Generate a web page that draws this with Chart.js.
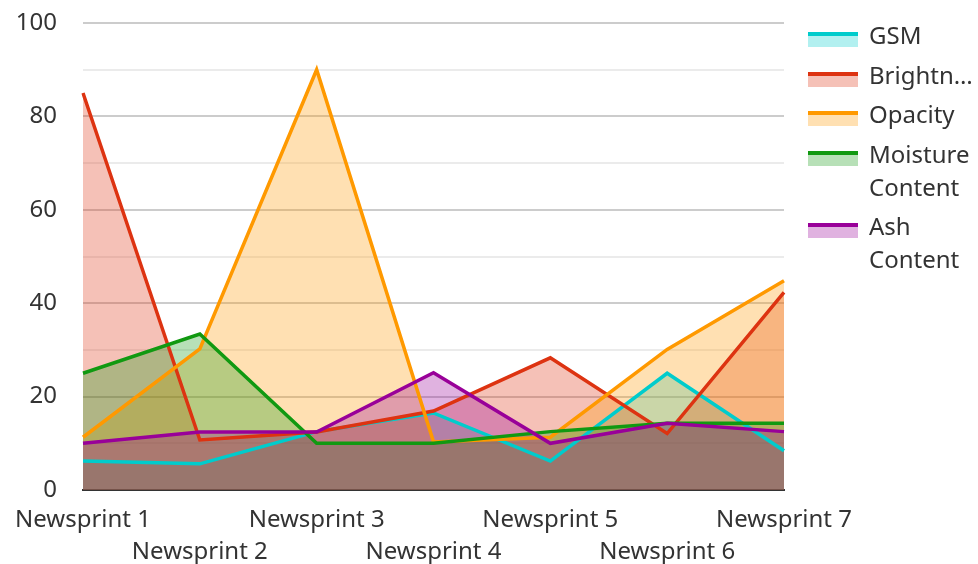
<!DOCTYPE html>
<html>
<head>
<meta charset="utf-8">
<script src="https://cdn.jsdelivr.net/npm/chart.js@4"></script>
<style>
  html, body { margin: 0; padding: 0; background: #fff; }
  #wrap { position: relative; width: 978px; height: 564px; }
  #chart { position: absolute; left: 0; top: 0; }
  #legend { position: absolute; left: 808px; top: 18px; font-family: "Noto Sans", sans-serif; font-size: 24px; color: #333; }
  .item { display: flex; align-items: flex-start; margin-bottom: 6.5px; }
  .sw { width: 50px; height: 15px; margin-top: 14px; margin-right: 11px; position: relative; flex: none; }
  .sw .line { position: absolute; left: 0; top: 0; width: 100%; height: 4px; }
  .lbl { line-height: 33px; width: 110px; white-space: normal; }
</style>
</head>
<body>
<div id="wrap">
  <canvas id="chart" width="978" height="564"></canvas>
  <div id="legend"></div>
</div>
<script>
/* ── Data ── */
const categories = ['Newsprint 1', 'Newsprint 2', 'Newsprint 3', 'Newsprint 4', 'Newsprint 5', 'Newsprint 6', 'Newsprint 7'];
const gsm        = [6.2, 5.6, 12.5, 16.5, 6.2, 25, 8.4];
const brightness = [85, 10.7, 12.4, 16.9, 28.3, 12.1, 42.3];
const opacity    = [11.3, 30.2, 90, 10.3, 11.3, 30.1, 44.8];
const moisture   = [25, 33.4, 10, 10, 12.5, 14.3, 14.3];
const ash        = [10, 12.4, 12.4, 25.1, 10, 14.3, 12.5];

const seriesNames  = ['GSM', 'Brightness', 'Opacity', 'Moisture Content', 'Ash Content'];
const legendLabels = ['GSM', 'Brightn…', 'Opacity', 'Moisture Content', 'Ash Content'];
const seriesData   = [gsm, brightness, opacity, moisture, ash];
const lineColors   = ['#00cccc', '#dd3311', '#ff9900', '#119911', '#990099'];
const fillColors   = ['rgba(0,204,204,0.3)', 'rgba(221,51,17,0.3)', 'rgba(255,153,0,0.3)', 'rgba(17,153,17,0.3)', 'rgba(153,0,153,0.3)'];

const FONT = { family: '"Noto Sans", sans-serif', size: 24 };

new Chart(document.getElementById('chart'), {
  type: 'line',
  data: {
    labels: categories,
    datasets: seriesNames.map((name, i) => ({
      label: name,
      data: seriesData[i],
      borderColor: lineColors[i],
      backgroundColor: fillColors[i],
      borderWidth: 3.5,
      fill: 'origin',
      pointRadius: 0,
      tension: 0,
      order: seriesNames.length - i,   // later series drawn on top
    })),
  },
  options: {
    responsive: false,
    animation: false,
    layout: { padding: { top: 0, right: 194, left: 0, bottom: 0 } },
    plugins: {
      legend: { display: false },
      tooltip: { enabled: false },
      filler: { drawTime: 'beforeDatasetsDraw' },   // all areas under all lines
    },
    scales: {
      x: {
        offset: false,
        grid: { display: false, drawTicks: false },
        border: { display: true, color: '#333', width: 2 },
        ticks: {
          color: '#333', font: { ...FONT, lineHeight: 1.35 }, autoSkip: false, maxRotation: 0, padding: 14,
          callback: (v, i) => (i % 2 ? ['', categories[i]] : categories[i]),
        },
        afterFit: s => { s.height = 74; },
      },
      y: {
        min: 0, max: 100,
        border: { display: false },
        grid: {
          drawTicks: false,
          color: ctx => (ctx.tick.value % 20 === 0 ? 'rgba(0,0,0,0.2)' : 'rgba(0,0,0,0.08)'),
          lineWidth: 2,
        },
        ticks: {
          stepSize: 10, color: '#333', font: FONT, padding: 26,
          callback: v => (v % 20 === 0 ? v : ''),
        },
        afterFit: s => { s.width = 83; s.paddingTop = 23; },
      },
    },
  },
});

/* ── HTML legend ── */
document.getElementById('legend').innerHTML = legendLabels.map((l, i) => `
  <div class="item">
    <div class="sw" style="background:${fillColors[i]}"><div class="line" style="background:${lineColors[i]}"></div></div>
    <div class="lbl">${l}</div>
  </div>`).join('');
</script>
</body>
</html>
